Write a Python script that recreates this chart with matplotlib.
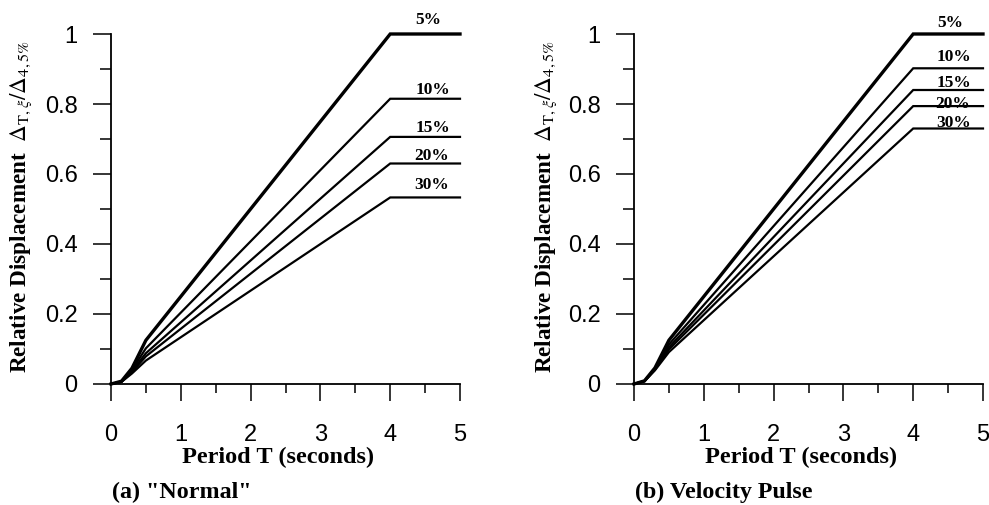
import matplotlib
matplotlib.use("Agg")
import matplotlib.pyplot as plt
from matplotlib.ticker import MultipleLocator

plt.rcParams['mathtext.fontset'] = 'stix'

periods = [0.0, 0.15, 0.3, 0.5, 4.0, 5.0]
damping_labels = ["5%", "10%", "15%", "20%", "30%"]

normal_5 = [0.0, 0.008, 0.045, 0.125, 1.0, 1.0]
normal_10 = [0.0, 0.007, 0.040, 0.102, 0.815, 0.815]
normal_15 = [0.0, 0.007, 0.037, 0.088, 0.706, 0.706]
normal_20 = [0.0, 0.006, 0.034, 0.079, 0.630, 0.630]
normal_30 = [0.0, 0.006, 0.030, 0.067, 0.533, 0.533]

pulse_5 = [0.0, 0.009, 0.046, 0.125, 1.0, 1.0]
pulse_10 = [0.0, 0.009, 0.044, 0.113, 0.902, 0.902]
pulse_15 = [0.0, 0.008, 0.042, 0.105, 0.840, 0.840]
pulse_20 = [0.0, 0.008, 0.041, 0.099, 0.794, 0.794]
pulse_30 = [0.0, 0.008, 0.039, 0.091, 0.730, 0.730]

normal_series = [normal_5, normal_10, normal_15, normal_20, normal_30]
pulse_series = [pulse_5, pulse_10, pulse_15, pulse_20, pulse_30]

x_ticks = [0, 1, 2, 3, 4, 5]
y_ticks = [0, 0.2, 0.4, 0.6, 0.8, 1]
y_tick_labels = ["0", "0.2", "0.4", "0.6", "0.8", "1"]

W, H = 989, 505
fig = plt.figure(figsize=(W / 100, H / 100), dpi=100)

serif = ['Liberation Serif', 'DejaVu Serif']
sans = ['Liberation Sans', 'DejaVu Sans']

ylabel = r"Relative Displacement  $\Delta_{\mathrm{T},\xi}/\Delta_{4,5\%}$"

# label placement (pixel offsets above each line end, and x in data units)
normal_label_dy = [14, 9, 9, 7, 12]
normal_label_x = [4.54, 4.61, 4.61, 4.60, 4.60]
pulse_label_dy = [11, 11, 7, 2, 6]
pulse_label_x = [4.53, 4.58, 4.58, 4.57, 4.58]


def make_panel(left_px, series, caption, label_x_px, lab_x, lab_dy):
    ax = fig.add_axes([left_px / W, (H - 384) / H, 349 / W, 350 / H])
    for i, (ys, lab) in enumerate(zip(series, damping_labels)):
        lw = 2.4 if i == 0 else 1.6
        ax.plot(periods, ys, color='black', lw=lw, clip_on=False,
                solid_joinstyle='miter')
        ax.text(lab_x[i], ys[-1] + lab_dy[i] / 350.0, lab, ha='center',
                va='center', fontsize=12.5, fontweight='bold', family=serif)
    ax.set_xlim(0, 5)
    ax.set_ylim(0, 1)
    ax.spines['top'].set_visible(False)
    ax.spines['right'].set_visible(False)
    for s in ('left', 'bottom'):
        ax.spines[s].set_linewidth(1.3)
    ax.set_xticks(x_ticks)
    ax.set_xticklabels([str(v) for v in x_ticks])
    ax.set_yticks(y_ticks)
    ax.set_yticklabels(y_tick_labels)
    ax.xaxis.set_minor_locator(MultipleLocator(0.5))
    ax.yaxis.set_minor_locator(MultipleLocator(0.1))
    ax.tick_params(axis='x', which='major', direction='out', length=12.5,
                   width=1.1, pad=16, labelsize=17)
    ax.tick_params(axis='x', which='minor', direction='out', length=6.5, width=1.1)
    ax.tick_params(axis='y', which='major', direction='out', length=13,
                   width=1.1, pad=11, labelsize=17)
    ax.tick_params(axis='y', which='minor', direction='out', length=8, width=1.1)
    for t in ax.get_xticklabels() + ax.get_yticklabels():
        t.set_family(sans)
    ax.set_xlabel("Period T (seconds)", fontsize=17.5, fontweight='bold',
                  family=serif)
    ax.xaxis.set_label_coords(0.48, -0.18)
    fig.text(label_x_px / W, 1 - 207 / H, ylabel, rotation=90, ha='center',
             va='center', fontsize=16.7, fontweight='bold', family=serif)
    fig.text((left_px + 1) / W, 1 - 492 / H, caption, ha='left', va='center',
             fontsize=17.3, fontweight='bold', family=serif)
    return ax


make_panel(111, normal_series, '(a) "Normal"', 21, normal_label_x, normal_label_dy)
make_panel(634, pulse_series, '(b) Velocity Pulse', 546, pulse_label_x, pulse_label_dy)

fig.savefig("out.png", dpi=100)
